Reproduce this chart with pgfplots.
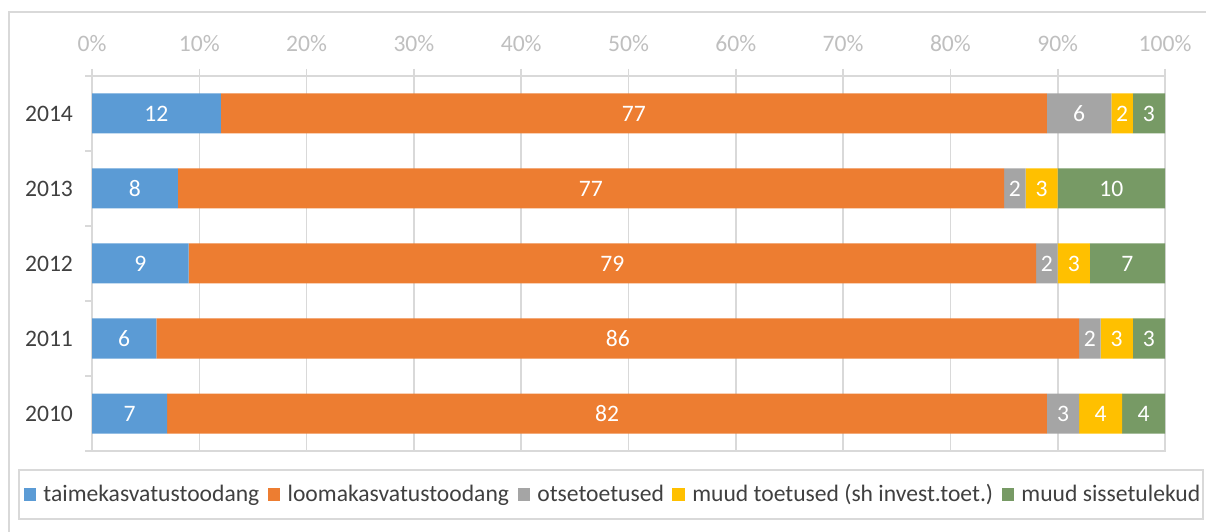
\documentclass[border=0pt]{standalone}
\usepackage{fontspec}
\setmainfont{Carlito}
\usepackage{pgfplots}
\usepackage{pgfplotstable}
\pgfplotsset{compat=1.18}

\definecolor{cBlue}{HTML}{5B9BD5}
\definecolor{cOrange}{HTML}{ED7D31}
\definecolor{cGray}{HTML}{A5A5A5}
\definecolor{cYellow}{HTML}{FFC000}
\definecolor{cGreen}{HTML}{779A65}
\definecolor{frameC}{HTML}{D9D9D9}
\definecolor{tickC}{HTML}{BFBFBF}
\definecolor{textC}{HTML}{404040}

% year, row position, shares (%)
\pgfplotstableread{
year pos taim loom otse muud sisse
2010 0 7 82 3 4 4
2011 1 6 86 2 3 3
2012 2 9 79 2 3 7
2013 3 8 77 2 3 10
2014 4 12 77 6 2 3
}\shares

\begin{document}
\begin{tikzpicture}
\useasboundingbox (0,0) rectangle (603pt,265.5pt);
\draw[frameC, line width=0.6pt] (4.5pt,-2pt) -- (4.5pt,259.5pt) -- (603pt,259.5pt);
\draw[frameC, line width=0.6pt] (9.5pt,6pt) rectangle (601.5pt,30.5pt);
\begin{axis}[
  at={(46pt,40pt)}, anchor=south west,
  scale only axis, width=536.5pt, height=187.5pt,
  xbar stacked, bar width=20pt,
  xmin=0, xmax=100, ymin=-0.5, ymax=4.5,
  axis line style={draw=frameC, line width=0.8pt},
  xtick={0,10,...,100},
  xticklabels={0\%,10\%,20\%,30\%,40\%,50\%,60\%,70\%,80\%,90\%,100\%},
  xtick pos=right, xticklabel pos=right,
  xmajorgrids, major grid style={draw=frameC, line width=0.8pt},
  tick align=outside, major tick length=3.5pt,
  tick style={draw=frameC, line width=0.8pt},
  xticklabel style={text=tickC, font=\fontsize{11.8}{14}\selectfont, yshift=5pt},
  ytick={-0.5,0.5,...,4.5}, yticklabels={},
  ytick pos=left,
  extra y ticks={0,1,2,3,4},
  extra y tick labels={2010,2011,2012,2013,2014},
  extra y tick style={major tick length=0pt, ymajorgrids=false,
    yticklabel style={text=textC, font=\fontsize{11.8}{14}\selectfont, xshift=-6pt}},
  point meta=explicit symbolic,
  nodes near coords={\pgfplotspointmeta},
  nodes near coords align=center,
  every node near coord/.append style={anchor=center, text=white,
    font=\fontsize{11.8}{14}\selectfont},
  legend columns=5,
  legend style={at={(0.4846,-0.116)}, anchor=center, draw=none, fill=none,
    font=\fontsize{11.8}{14}\selectfont, text=textC,
    /tikz/every odd column/.style={column sep=3.7pt},
    /tikz/every even column/.style={column sep=4.25pt},
    nodes={inner xsep=0pt, inner ysep=1pt}},
  legend image code/.code={\fill[#1] (0pt,-3.1pt) rectangle (6.2pt,3.1pt);},
]
\addplot[fill=cBlue, draw=none] table[x=taim, y=pos, meta=taim] {\shares};
\addlegendentry{taimekasvatustoodang}
\addplot[fill=cOrange, draw=none] table[x=loom, y=pos, meta=loom] {\shares};
\addlegendentry{loomakasvatustoodang}
\addplot[fill=cGray, draw=none] table[x=otse, y=pos, meta=otse] {\shares};
\addlegendentry{otsetoetused}
\addplot[fill=cYellow, draw=none] table[x=muud, y=pos, meta=muud] {\shares};
\addlegendentry{muud toetused (sh invest.toet.)}
\addplot[fill=cGreen, draw=none] table[x=sisse, y=pos, meta=sisse] {\shares};
\addlegendentry{muud sissetulekud}
\end{axis}
\end{tikzpicture}
\end{document}
